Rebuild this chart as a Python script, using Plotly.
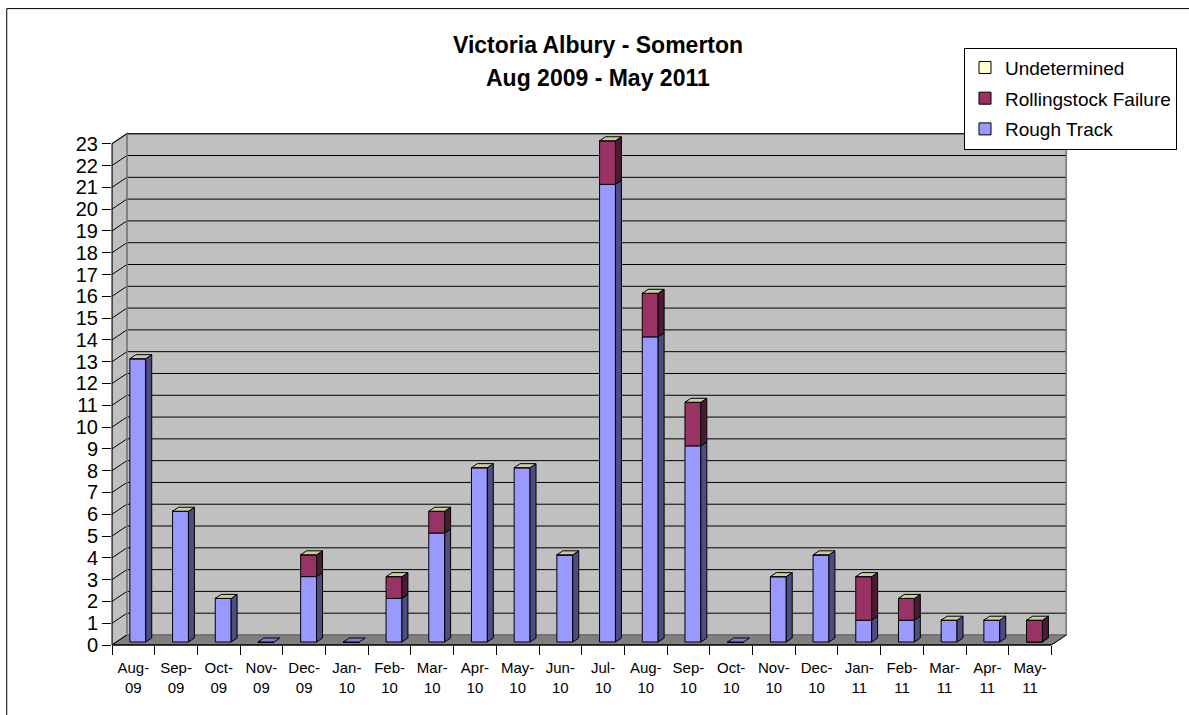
import plotly.graph_objects as go

# ---------------- data ----------------
months = ["Aug-09", "Sep-09", "Oct-09", "Nov-09", "Dec-09", "Jan-10", "Feb-10", "Mar-10",
          "Apr-10", "May-10", "Jun-10", "Jul-10", "Aug-10", "Sep-10", "Oct-10", "Nov-10",
          "Dec-10", "Jan-11", "Feb-11", "Mar-11", "Apr-11", "May-11"]
rough_track = [13, 6, 2, 0, 3, 0, 2, 5, 8, 8, 4, 21, 14, 9, 0, 3, 4, 1, 1, 1, 1, 0]
rollingstock = [0, 0, 0, 0, 1, 0, 1, 1, 0, 0, 0, 2, 2, 2, 0, 0, 0, 2, 1, 0, 0, 1]
undetermined = [0, 0, 0, 0, 0, 0, 0, 0, 0, 0, 0, 0, 0, 0, 0, 0, 0, 0, 0, 0, 0, 0]
y_ticks = [0, 1, 2, 3, 4, 5, 6, 7, 8, 9, 10, 11, 12, 13, 14, 15, 16, 17, 18, 19, 20, 21, 22, 23]
title_lines = ["Victoria Albury - Somerton", "Aug 2009 - May 2011"]

# ---------------- geometry / style ----------------
W_FIG, H_FIG = 1189, 715
PX_X = 43.0          # pixels per category
PX_Y = 21.78         # pixels per unit
LEFT_PX = 112        # pixel of x = -0.5
ZERO_PX = 645        # pixel of y = 0
DX = 15 / PX_X       # wall depth (x units)
DY = 10 / PX_Y       # wall depth (y units)
BAR_W = 16 / PX_X
BAR_F = 0.3          # depth fraction of bar front face
BAR_D = 0.4          # depth fraction of bar thickness
XMIN = -0.5
XMAX = len(months) - 0.5 + DX + 0.04
YMAX = y_ticks[-1] + DY + 0.08
plot_w = (XMAX - XMIN) * PX_X
plot_h = YMAX * PX_Y
m_l = LEFT_PX
m_r = W_FIG - LEFT_PX - plot_w
m_b = H_FIG - ZERO_PX
m_t = ZERO_PX - plot_h

def px_x(p):
    return (p - LEFT_PX) / plot_w

def px_y(p):
    return (ZERO_PX - p) / plot_h

C_ROUGH, C_ROUGH_SIDE = "#9999FF", "#4D4D80"
C_ROLL, C_ROLL_SIDE = "#993366", "#4D1A33"
C_UND = "#FFFFCC"
C_TOP = "#CCCC9E"
C_ZERO_TOP = "#7C7CD0"
C_WALL = "#C0C0C0"
C_FLOOR = "#808080"
FONT = "Liberation Sans, Arial, sans-serif"

xs = list(range(len(months)))
x_off = BAR_F * DX
y_base = BAR_F * DY
sdx = BAR_D * DX
sdy = BAR_D * DY
bar_offset = x_off - BAR_W / 2

fig = go.Figure()

# front faces (bars)
cum = [y_base] * len(months)
series = [("Rough Track", rough_track, C_ROUGH, 3),
          ("Rollingstock Failure", rollingstock, C_ROLL, 2),
          ("Undetermined", undetermined, C_UND, 1)]
for name, vals, col, rank in series:
    fig.add_trace(go.Bar(
        x=xs, y=vals, base=list(cum), width=BAR_W, offset=bar_offset, name=name,
        legendrank=rank, legendgroup=name,
        marker=dict(color=col, line=dict(color="black", width=1)),
        hoverinfo="skip"))
    cum = [c + v for c, v in zip(cum, vals)]

# side faces
def side_trace(vals, bases, color):
    px, py = [], []
    for i, (v, b) in enumerate(zip(vals, bases)):
        if v <= 0:
            continue
        xr = i + x_off + BAR_W / 2
        px += [xr, xr + sdx, xr + sdx, xr, xr, None]
        py += [b, b + sdy, b + v + sdy, b + v, b, None]
    return go.Scatter(x=px, y=py, mode="lines", fill="toself", fillcolor=color,
                      line=dict(color="black", width=1), hoverinfo="skip", showlegend=False)

bases_rough = [y_base] * len(months)
bases_roll = [y_base + r for r in rough_track]
fig.add_trace(side_trace(rough_track, bases_rough, C_ROUGH_SIDE))
fig.add_trace(side_trace(rollingstock, bases_roll, C_ROLL_SIDE))

# top faces
tx, ty, zx, zy = [], [], [], []
for i in xs:
    tot = rough_track[i] + rollingstock[i] + undetermined[i]
    top = y_base + tot
    xl = i + x_off - BAR_W / 2
    xr = i + x_off + BAR_W / 2
    poly_x = [xl, xl + sdx, xr + sdx, xr, xl, None]
    poly_y = [top, top + sdy, top + sdy, top, top, None]
    if tot > 0:
        tx += poly_x
        ty += poly_y
    else:
        zx += poly_x
        zy += poly_y
fig.add_trace(go.Scatter(x=tx, y=ty, mode="lines", fill="toself", fillcolor=C_TOP,
                         line=dict(color="black", width=1), hoverinfo="skip", showlegend=False))
fig.add_trace(go.Scatter(x=zx, y=zy, mode="lines", fill="toself", fillcolor=C_ZERO_TOP,
                         line=dict(color="black", width=1), hoverinfo="skip", showlegend=False))

# ---------------- walls, floor, grid ----------------
x_front_r = len(months) - 0.5
x_back_l = XMIN + DX
x_back_r = x_front_r + DX
top_v = y_ticks[-1]
shapes = []
shapes.append(dict(type="rect", xref="x", yref="y", x0=x_back_l, x1=x_back_r, y0=DY, y1=top_v + DY,
                   fillcolor=C_WALL, line=dict(color="#808080", width=1.5), layer="below"))
shapes.append(dict(type="path", xref="x", yref="y",
                   path=f"M {XMIN},0 L {x_back_l},{DY} L {x_back_l},{top_v + DY} L {XMIN},{top_v} Z",
                   fillcolor=C_WALL, line=dict(color="#808080", width=1.5), layer="below"))
shapes.append(dict(type="path", xref="x", yref="y",
                   path=f"M {XMIN},0 L {x_front_r},0 L {x_back_r},{DY} L {x_back_l},{DY} Z",
                   fillcolor=C_FLOOR, line=dict(color="#606060", width=1), layer="below"))
for v in y_ticks[1:]:
    shapes.append(dict(type="line", xref="x", yref="y", x0=x_back_l, x1=x_back_r,
                       y0=v + DY, y1=v + DY, line=dict(color="black", width=1), layer="below"))
for v in y_ticks:
    shapes.append(dict(type="line", xref="x", yref="y", x0=XMIN, x1=x_back_l,
                       y0=v, y1=v + DY, line=dict(color="black", width=1), layer="below"))
shapes.append(dict(type="line", xref="x", yref="y", x0=x_back_l, x1=x_back_l, y0=DY, y1=top_v + DY,
                   line=dict(color="#808080", width=1.5), layer="below"))
shapes.append(dict(type="line", xref="x", yref="y", x0=x_back_r, x1=x_back_r, y0=DY, y1=top_v + DY,
                   line=dict(color="#808080", width=1.5), layer="below"))
shapes.append(dict(type="line", xref="paper", yref="y", x0=0, x1=0, y0=0, y1=top_v,
                   line=dict(color="black", width=1)))
shapes.append(dict(type="line", xref="x", yref="paper", x0=XMIN, x1=x_front_r, y0=0, y1=0,
                   line=dict(color="black", width=1.5)))
shapes.append(dict(type="line", xref="x", yref="y", x0=x_front_r, x1=x_back_r, y0=0, y1=DY,
                   line=dict(color="black", width=1)))
# chart outer border
shapes.append(dict(type="rect", xref="paper", yref="paper", x0=px_x(6), x1=px_x(1200),
                   y0=px_y(730), y1=px_y(9), line=dict(color="black", width=1), fillcolor="rgba(0,0,0,0)"))

annotations = [
    dict(text=f"<b>{title_lines[0]}</b>", xref="paper", yref="paper", x=px_x(601), y=px_y(45),
         xanchor="center", yanchor="middle", showarrow=False, font=dict(size=23, color="black", family=FONT)),
    dict(text=f"<b>{title_lines[1]}</b>", xref="paper", yref="paper", x=px_x(601), y=px_y(78),
         xanchor="center", yanchor="middle", showarrow=False, font=dict(size=23, color="black", family=FONT)),
]

fig.update_layout(
    width=W_FIG, height=H_FIG,
    margin=dict(l=m_l, r=m_r, t=m_t, b=m_b, pad=0),
    paper_bgcolor="white", plot_bgcolor="rgba(0,0,0,0)",
    barmode="overlay",
    font=dict(family=FONT, color="black"),
    shapes=shapes, annotations=annotations,
    showlegend=True,
    legend=dict(x=px_x(970), y=px_y(48), xanchor="left", yanchor="top",
                bgcolor="white", bordercolor="black", borderwidth=1,
                font=dict(size=19, family=FONT, color="black"),
                traceorder="grouped", tracegroupgap=3),
    xaxis=dict(range=[XMIN, XMAX], tickvals=xs,
               ticktext=[m.replace("-", "-<br>") for m in months],
               ticks="", showgrid=False, zeroline=False, showline=False,
               tickfont=dict(size=15, family=FONT, color="black"),
               ticklabelstandoff=12,
               minor=dict(tickmode="array", tickvals=[i - 0.5 for i in xs] + [x_front_r],
                          ticks="outside", ticklen=9, tickcolor="black", tickwidth=1, showgrid=False),
               fixedrange=True),
    yaxis=dict(range=[0, YMAX], tickvals=y_ticks, ticks="outside", ticklen=9, tickcolor="black",
               tickwidth=1, showgrid=False, zeroline=False, showline=False,
               tickfont=dict(size=20, family=FONT, color="black"), fixedrange=True),
)

fig.write_html("out.html", config={"displayModeBar": False},
               post_script="document.body.style.margin='0';document.body.style.overflow='hidden';")
